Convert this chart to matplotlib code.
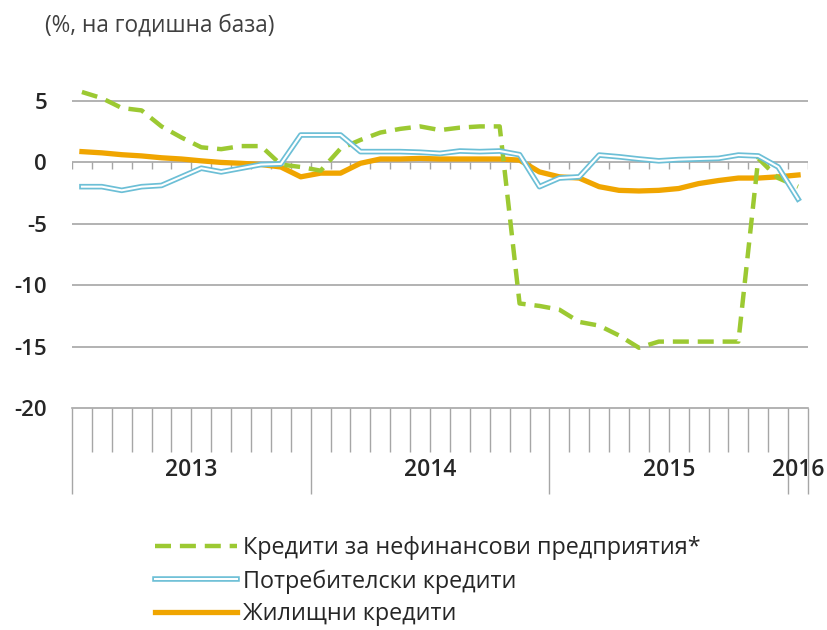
import matplotlib
matplotlib.use("Agg")
import matplotlib.pyplot as plt
from matplotlib.lines import Line2D
from matplotlib.legend_handler import HandlerTuple
import numpy as np

plt.rcParams['font.family'] = ['Open Sans', 'DejaVu Sans']

# Monthly data Jan 2013 .. Jan 2016 (37 months)
years = ['2013', '2014', '2015', '2016']
months_per_year = [12, 12, 12, 1]

enterprises = [5.7, 5.2, 4.4, 4.2, 2.9, 2.0, 1.2, 1.05, 1.3, 1.3, -0.2, -0.4,
               -0.7, 1.1, 1.8, 2.4, 2.7, 2.9, 2.6, 2.8, 2.9, 2.9, -11.5, -11.7,
               -12.0, -13.0, -13.3, -14.1, -15.1, -14.6, -14.6, -14.6, -14.6, -14.6, 0.3, -1.3,
               -2.0]
consumer = [-2.0, -2.0, -2.3, -2.0, -1.9, -1.2, -0.5, -0.8, -0.5, -0.2, -0.15, 2.2,
            2.2, 2.2, 0.85, 0.85, 0.85, 0.8, 0.7, 0.9, 0.85, 0.9, 0.6, -2.0,
            -1.3, -1.2, 0.57, 0.43, 0.25, 0.1, 0.2, 0.25, 0.3, 0.57, 0.5, -0.4,
            -3.0]
housing = [0.85, 0.75, 0.6, 0.5, 0.35, 0.25, 0.1, -0.03, -0.1, -0.2, -0.4, -1.2,
           -0.9, -0.9, -0.1, 0.25, 0.25, 0.3, 0.25, 0.25, 0.25, 0.25, 0.16, -0.8,
           -1.2, -1.3, -2.0, -2.3, -2.35, -2.3, -2.15, -1.75, -1.5, -1.3, -1.3, -1.2,
           -1.05]

labels = ['Кредити за нефинансови предприятия*', 'Потребителски кредити', 'Жилищни кредити']
yticks = [5, 0, -5, -10, -15, -20]

GREEN = '#9CC932'
BLUE = '#6CBFD6'
ORANGE = '#F0A500'
GRID = '#A6A6A6'
TXT = '#262626'

n = len(enterprises)
x = np.arange(n)

fig = plt.figure(figsize=(8.28, 6.3), dpi=100)
ax = fig.add_axes([72/828, 1-408/630, (808-72)/828, (408-76)/630])
ax.set_xlim(-0.5, n-0.5)
ax.set_ylim(-20, 7.0)

for s in ['top', 'left', 'right']:
    ax.spines[s].set_visible(False)
ax.spines['bottom'].set_color(GRID)
ax.spines['bottom'].set_linewidth(1.2)

ax.set_yticks(yticks)
ax.set_yticklabels([str(v) for v in yticks], fontsize=16, fontweight='semibold', color=TXT)
ax.tick_params(axis='y', length=0, pad=18)
for v in yticks[:-1]:
    ax.axhline(v, color=GRID, lw=1.2, zorder=1)

# short ticks along zero line
bounds = np.arange(n+1) - 0.5
ax.vlines(bounds, -0.55, 0, color=GRID, lw=1.0, zorder=1)

# bottom category ticks
cum = np.cumsum([0] + months_per_year)
major = cum - 0.5
minor = [b for b in bounds if b not in set(major)]
ax.set_xticks(major)
ax.set_xticks(minor, minor=True)
ax.set_xticklabels([])
ax.tick_params(axis='x', which='major', length=62, width=1.0, color=GRID, direction='out')
ax.tick_params(axis='x', which='minor', length=32, width=1.0, color=GRID, direction='out')
for i, yr in enumerate(years):
    c = (cum[i] + cum[i+1] - 1) / 2
    ax.annotate(yr, xy=(c, 0), xycoords=('data', 'axes fraction'),
                xytext=(0, -45), textcoords='offset points',
                ha='center', va='center', fontsize=16.5, fontweight='semibold', color=TXT)

# series
l1, = ax.plot(x, enterprises, color=GREEN, lw=3.2, dashes=(3.6, 2.0),
              solid_capstyle='butt', zorder=3, clip_on=False)
l2a, = ax.plot(x, consumer, color=BLUE, lw=4.0, zorder=4)
l2b, = ax.plot(x, consumer, color='white', lw=1.5, zorder=5)
l3, = ax.plot(x, housing, color=ORANGE, lw=3.8, zorder=2)

fig.text(45/828, 1-26/630, '(%, на годишна база)', fontsize=16.3, color='#404040',
         ha='left', va='center')

leg = fig.legend([l1, (l2a, l2b), l3], labels,
                 handler_map={tuple: HandlerTuple(ndivide=1)},
                 loc='upper left', bbox_to_anchor=(146/828, 1-527/630),
                 frameon=False, fontsize=16.8, handlelength=3.5, handletextpad=0.25,
                 labelspacing=0.38, borderaxespad=0)
for t in leg.get_texts():
    t.set_color(TXT)

fig.savefig('out.png', dpi=100)
